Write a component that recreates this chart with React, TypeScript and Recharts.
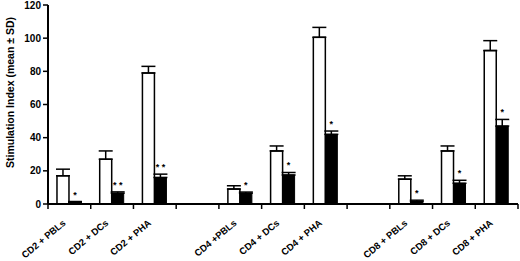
import { Bar, BarChart, ErrorBar, LabelList, XAxis, YAxis } from "recharts";

const categories = [
  "CD2 + PBLs",
  "CD2 + DCs",
  "CD2 + PHA",
  " ",
  "CD4 +PBLs",
  "CD4 + DCs",
  "CD4 + PHA",
  "  ",
  "CD8 + PBLs",
  "CD8 + DCs",
  "CD8 + PHA",
];
const whiteVals = [17, 27, 79, null, 9, 32, 100.5, null, 15, 32, 92.5];
const whiteErr = [4, 5, 4, null, 2, 3, 6, null, 2, 3, 6];
const blackVals = [1, 6.5, 16, null, 6.5, 17.5, 42, null, 1.5, 12.5, 47];
const blackErr = [0.5, 0.8, 2, null, 0.7, 1.5, 2, null, 0.8, 1.8, 4];
const stars = ["*", "* *", "* *", "", "*", "*", "*", "", "*", "*", "*"];
const yTicks = [0, 20, 40, 60, 80, 100, 120];

const W = 520;
const H = 261;
const MARGIN = { top: 5, right: 2, bottom: 0, left: 0 };
const Y_W = 48;
const X_H = 57;
const FONT = "'Liberation Sans', Arial, sans-serif";
const slotW = (W - MARGIN.left - MARGIN.right - Y_W) / categories.length;

const data = categories.map((name, i) => ({
  name,
  idx: i,
  white: whiteVals[i],
  whiteErr: whiteErr[i] == null ? null : [0, whiteErr[i]],
  black: blackVals[i],
  blackErr: blackErr[i] == null ? null : [0, blackErr[i]],
}));

function XTick(props: any) {
  const { x, y, payload, index } = props;
  const tx = x - 3;
  const ty = y + 20;
  const label = String(payload.value).trim();
  return (
    <g>
      <line x1={x - slotW / 2} x2={x - slotW / 2} y1={y} y2={y + 5} stroke="#000" strokeWidth={1.5} />
      {index === categories.length - 1 && (
        <line x1={x + slotW / 2} x2={x + slotW / 2} y1={y} y2={y + 5} stroke="#000" strokeWidth={1.5} />
      )}
      {label && (
        <text
          x={tx}
          y={ty}
          textAnchor="end"
          transform={`rotate(-40, ${tx}, ${ty})`}
          fontSize={9.5}
          fontWeight="bold"
          fontFamily={FONT}
          fill="#000"
        >
          {label}
        </text>
      )}
    </g>
  );
}

function StarLabel(props: any) {
  const { x, y, width, height, value } = props;
  const i = Number(value);
  const star = stars[i];
  const v = blackVals[i];
  if (!star || v == null) return null;
  const pxPerUnit = height / v;
  const top = y - (blackErr[i] ?? 0) * pxPerUnit;
  return (
    <text
      x={x + width / 2}
      y={top - 4}
      textAnchor="middle"
      fontSize={9}
      fontWeight="bold"
      fontFamily={FONT}
      fill="#000"
      style={{ whiteSpace: "pre" }}
    >
      {star}
    </text>
  );
}

function YTitle(props: any) {
  const { viewBox } = props;
  const cx = 10;
  const cy = viewBox.y + viewBox.height / 2 - 12;
  return (
    <text
      x={cx}
      y={cy}
      textAnchor="middle"
      dominantBaseline="central"
      transform={`rotate(-90, ${cx}, ${cy})`}
      fontSize={10.5}
      fontWeight="bold"
      fontFamily={FONT}
      fill="#000"
    >
      Stimulation Index (mean ± SD)
    </text>
  );
}

export default function App() {
  return (
    <div style={{ position: "fixed", left: 0, top: 0, width: W, height: H, background: "#fff" }}>
      <BarChart
        width={W}
        height={H}
        data={data}
        margin={MARGIN}
        barCategoryGap="21%"
        barGap={0}
      >
        <XAxis
          dataKey="name"
          interval={0}
          height={X_H}
          tickSize={0}
          tickMargin={0}
          tick={<XTick />}
          axisLine={{ stroke: "#000", strokeWidth: 2 }}
        />
        <YAxis
          width={Y_W}
          domain={[0, 120]}
          ticks={yTicks}
          interval={0}
          tickSize={5}
          tick={{ fontSize: 10, fontWeight: "bold", fill: "#000", fontFamily: FONT }}
          tickLine={{ stroke: "#000", strokeWidth: 1.5 }}
          axisLine={{ stroke: "#000", strokeWidth: 2 }}
          label={<YTitle />}
        />
        <Bar dataKey="white" fill="#fff" stroke="#000" strokeWidth={1.5} isAnimationActive={false}>
          <ErrorBar dataKey="whiteErr" width={7} stroke="#000" strokeWidth={1.5} direction="y" />
        </Bar>
        <Bar dataKey="black" fill="#000" stroke="#000" strokeWidth={1} isAnimationActive={false}>
          <ErrorBar dataKey="blackErr" width={7} stroke="#000" strokeWidth={1.5} direction="y" />
          <LabelList dataKey="idx" content={<StarLabel />} />
        </Bar>
      </BarChart>
    </div>
  );
}
